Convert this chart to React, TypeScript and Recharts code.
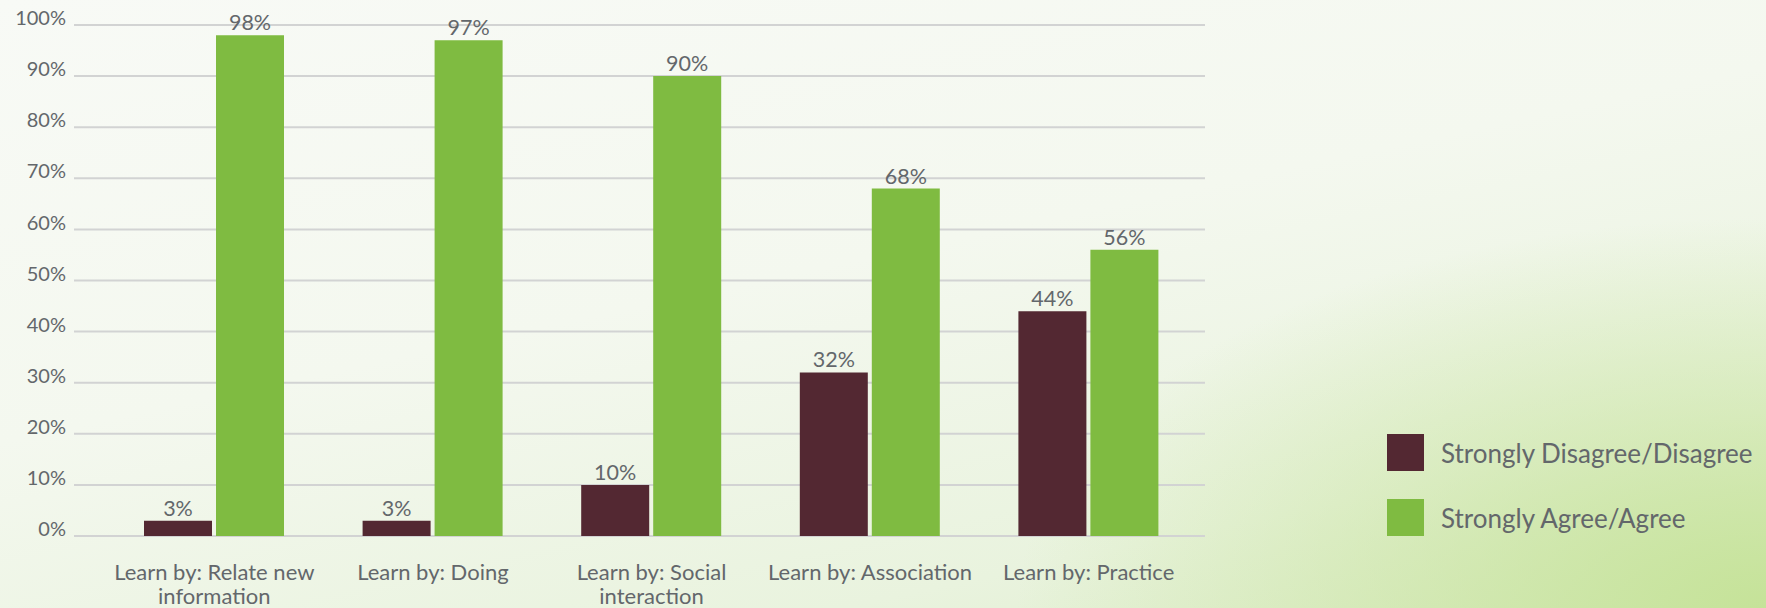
import { Bar, BarChart, CartesianGrid, LabelList, XAxis, YAxis } from 'recharts'

const categories = [
  'Learn by: Relate new information',
  'Learn by: Doing',
  'Learn by: Social interaction',
  'Learn by: Association',
  'Learn by: Practice',
]
const disagree = [3, 3, 10, 32, 44]
const agree = [98, 97, 90, 68, 56]
const yTicks = [0, 10, 20, 30, 40, 50, 60, 70, 80, 90, 100]

const DISAGREE = '#532832'
const AGREE = '#7fbb41'
const TEXT = '#63676b'
const FONT = 'Lato, "Open Sans", sans-serif'

const data = categories.map((name, i) => ({ name, disagree: disagree[i], agree: agree[i] }))

const series = [
  { key: 'disagree', label: 'Strongly Disagree/Disagree', color: DISAGREE },
  { key: 'agree', label: 'Strongly Agree/Agree', color: AGREE },
]

// greedy word wrap, ~21 chars fits one category band
function wrap(s: string, max = 21) {
  const lines: string[] = []
  let cur = ''
  for (const w of s.split(' ')) {
    const next = cur ? `${cur} ${w}` : w
    if (next.length > max && cur) {
      lines.push(cur)
      cur = w
    } else cur = next
  }
  if (cur) lines.push(cur)
  return lines
}

function YTick({ x, y, payload }: any) {
  return (
    <text x={x} y={y - 7} dy="0.355em" textAnchor="end" fill={TEXT} fontSize={20} fontFamily={FONT}>
      {payload.value}%
    </text>
  )
}

function XTick({ x, y, payload }: any) {
  return (
    <text x={x} y={y + 36} textAnchor="middle" fill={TEXT} fontSize={22} fontFamily={FONT}>
      {wrap(payload.value).map((line, i) => (
        <tspan key={i} x={x} dy={i ? 24 : 0}>
          {line}
        </tspan>
      ))}
    </text>
  )
}

function LegendBox() {
  return (
    <div style={{ position: 'absolute', left: 1387, top: 434, fontFamily: FONT }}>
      {series.map((s, i) => (
        <div
          key={s.key}
          style={{ display: 'flex', alignItems: 'center', height: 37, marginTop: i ? 28 : 0 }}
        >
          <div style={{ width: 37, height: 37, background: s.color }} />
          <span style={{ marginLeft: 17, fontSize: 26, color: TEXT, whiteSpace: 'nowrap' }}>{s.label}</span>
        </div>
      ))}
    </div>
  )
}

export default function App() {
  return (
    <div
      style={{
        position: 'absolute',
        left: 0,
        top: 0,
        width: 1766,
        height: 608,
        overflow: 'hidden',
        background:
          'radial-gradient(ellipse 1000px 520px at 100% 100%, rgba(196,226,150,0.95), rgba(196,226,150,0) 75%),' +
          'linear-gradient(168deg, #f8faf6 0%, #f4f8ef 45%, #e9f3de 80%, #deedcb 100%)',
      }}
    >
      <BarChart
        width={1766}
        height={608}
        data={data}
        margin={{ top: 25, right: 561, left: 0, bottom: 0 }}
        barGap={4}
        barSize={68}
      >
        <CartesianGrid vertical={false} stroke="#d2d3d3" strokeWidth={2} />
        <XAxis
          dataKey="name"
          height={72}
          axisLine={false}
          tickLine={false}
          interval={0}
          padding={{ left: 31, right: 7 }}
          tick={<XTick />}
        />
        <YAxis
          width={74}
          domain={[0, 100]}
          ticks={yTicks}
          axisLine={false}
          tickLine={false}
          tick={<YTick />}
        />
        {series.map((s) => (
          <Bar key={s.key} dataKey={s.key} name={s.label} fill={s.color} isAnimationActive={false}>
            <LabelList
              dataKey={s.key}
              position="top"
              offset={5}
              fill={TEXT}
              fontSize={21.5}
              fontFamily={FONT}
              formatter={(v: any) => `${v}%`}
            />
          </Bar>
        ))}
      </BarChart>
      <LegendBox />
    </div>
  )
}
